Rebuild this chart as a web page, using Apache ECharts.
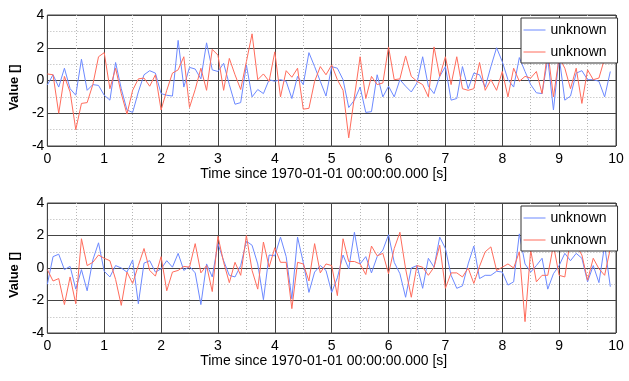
<!DOCTYPE html>
<html>
<head>
<meta charset="utf-8">
<script src="https://cdn.jsdelivr.net/npm/echarts@6/dist/echarts.min.js"></script>
<style>
html,body{margin:0;padding:0;background:#fff;}
#chart{width:629px;height:381px;}
</style>
</head>
<body>
<div id="chart"></div>
<script>
// ---- data ----
const time = [0,0.1,0.2,0.3,0.4,0.5,0.6,0.7,0.8,0.9,1,1.1,1.2,1.3,1.4,1.5,1.6,1.7,1.8,1.9,2,2.1,2.2,2.3,2.4,2.5,2.6,2.7,2.8,2.9,3,3.1,3.2,3.3,3.4,3.5,3.6,3.7,3.8,3.9,4,4.1,4.2,4.3,4.4,4.5,4.6,4.7,4.8,4.9,5,5.1,5.2,5.3,5.4,5.5,5.6,5.7,5.8,5.9,6,6.1,6.2,6.3,6.4,6.5,6.6,6.7,6.8,6.9,7,7.1,7.2,7.3,7.4,7.5,7.6,7.7,7.8,7.9,8,8.1,8.2,8.3,8.4,8.5,8.6,8.7,8.8,8.9,9,9.1,9.2,9.3,9.4,9.5,9.6,9.7,9.8,9.9];

const topBlue = [-0.27,0.35,-0.4,0.75,-0.5,-0.9,1.3,-0.6,-0.25,-0.3,
  -0.9,-1.2,1.1,-0.5,-1.8,-1.95,-0.7,0.35,0.6,0.45,
  -0.8,-0.9,-0.95,2.45,-0.4,0.8,0.7,0.1,2.3,0.65,
  0.55,1.05,-0.25,-1.45,-1.35,0.95,-1.0,-0.55,-0.8,0.05,
  -0.05,0.05,-0.05,-1.1,0.25,-0.25,1.7,0.85,-0.05,-0.95,
  0.85,0.75,0.05,-1.65,-1.2,-0.4,-1.95,-1.9,0.35,-1.0,
  -0.35,-1.0,0.05,-0.35,-0.7,-0.15,1.45,-0.35,-0.8,0.25,
  0.85,-1.2,-1.1,0.85,-0.5,0.45,0.35,-0.4,0.85,2.0,
  1.15,0.05,-0.4,1.4,0.55,-0.25,-0.75,-0.8,1.35,-1.8,
  1.45,-1.2,-0.95,0.45,0.6,0.05,0.05,-0.05,-1.0,0.55];

const topRed = [0.4,0.35,-2.0,0.25,-0.7,-3.0,-1.4,-1.35,-0.25,1.45,
  1.7,-0.5,0.75,-0.8,-2.05,-0.6,0.1,0.15,-0.35,0.35,
  -1.8,-0.6,0.45,0.65,1.45,-1.65,-0.55,0.75,-0.6,1.9,
  1.55,-0.6,1.35,0.35,-0.55,1.15,2.85,0.05,0.4,-0.05,
  1.75,-1.0,0.6,0.2,0.75,-1.75,-1.7,-0.05,0.85,0.35,
  0.95,0.05,-0.6,-3.5,-1.0,1.45,-1.1,0.25,-0.25,-0.15,
  2.05,0.05,0.1,1.5,0.25,-0.05,-0.25,-1.0,2.05,0.25,
  1.45,-0.25,1.45,-0.5,-0.6,-0.5,1.1,-0.6,0.05,-0.6,
  0.55,-1.0,0.75,-0.05,0.25,0.15,0.55,-0.8,1.8,-1.0,
  1.4,0.75,-0.5,0.75,-1.4,0.65,0.05,0.15,1.35,1.25];

const bottomBlue = [-1.0,0.7,0.85,-0.1,0.1,-1.3,-0.1,-1.4,0.5,1.55,
  -0.2,-0.55,0.15,0.0,-0.25,0.5,-2.2,0.3,0.45,-0.25,
  -0.05,0.45,0.05,0.9,-0.15,0.1,-0.3,-2.25,0.25,-0.55,
  1.5,0.45,-0.45,-0.55,0.15,1.65,1.4,0.25,-1.95,0.8,
  0.75,1.9,0.7,-1.9,1.9,0.35,-1.5,-0.25,0.15,-0.15,
  -1.5,-0.6,0.8,-0.05,2.2,0.25,0.7,-0.3,0.7,1.1,
  2.05,0.35,-0.35,-1.8,0.0,0.15,-1.25,0.6,0.05,1.9,
  1.2,-0.45,-1.25,-1.1,0.25,1.35,-0.65,-0.45,-0.45,-0.2,
  -0.25,-1.05,-0.85,2.1,0.25,-0.25,0.15,0.6,-1.3,-0.35,
  0.15,0.9,0.45,0.9,0.6,-0.85,0.15,-0.9,1.4,-1.15];

const bottomRed = [-0.1,-0.8,-0.65,-2.25,-0.55,-2.2,1.8,0.15,0.35,0.8,
  0.6,0.45,-0.7,-2.3,-0.25,-0.95,0.15,1.2,-0.15,-0.5,
  0.7,-1.4,-0.25,-0.15,0.1,0.05,1.5,-0.3,0.15,-1.45,
  1.95,0.35,-0.9,0.35,-0.45,2.0,-0.15,-1.3,1.6,0.05,
  1.25,0.35,0.35,-2.5,0.35,0.25,-0.8,1.5,-0.3,0.25,
  0.15,-1.7,1.8,0.4,0.4,0.25,-0.4,1.35,0.75,0.9,
  -0.35,1.2,2.2,-0.05,-1.8,0.15,0.05,-0.45,0.05,1.4,
  -1.25,-0.3,-0.3,-0.55,0.0,-0.95,0.1,1.0,1.3,-0.15,
  0.05,0.25,0.0,1.0,-3.3,1.1,-0.85,-0.45,-0.45,1.4,
  -0.45,-0.55,1.8,1.4,0.8,-0.75,0.6,-0.05,-0.45,1.2];

const seriesNames = ['top-1','top-2','bottom-1','bottom-2'];
const legendLabel = 'unknown';
const xTicks = [0,1,2,3,4,5,6,7,8,9,10];
const yTicks = [-4,-2,0,2,4];
const xTitle = 'Time since 1970-01-01 00:00:00.000 [s]';
const yTitle = 'Value []';

// ---- styling ----
const FONT = 'Liberation Sans, Arial, Helvetica, sans-serif';
const BLUE = '#6c89ff';
const RED = '#ff6c5c';

function pairs(vals){ return vals.map((v,i)=>[time[i], v]); }

function xAxisFor(gi){
  return {
    type:'value', gridIndex:gi, min:xTicks[0], max:xTicks[xTicks.length-1], interval:1,
    axisLine:{show:false, onZero:false}, axisTick:{show:false},
    axisLabel:{color:'#000', fontSize:14, fontFamily:FONT, margin:6},
    splitLine:{show:true, lineStyle:{color:'#444', width:1}},
    minorTick:{show:false, splitNumber:2},
    minorSplitLine:{show:true, lineStyle:{color:'#b5b5b5', width:1, type:[1,2]}},
    name:xTitle, nameLocation:'middle', nameGap:21,
    nameTextStyle:{color:'#000', fontSize:14, fontFamily:FONT, padding:[0,16,0,0]}
  };
}
function yAxisFor(gi){
  return {
    type:'value', gridIndex:gi, min:yTicks[0], max:yTicks[yTicks.length-1], interval:2,
    axisLine:{show:false, onZero:false}, axisTick:{show:false},
    axisLabel:{color:'#000', fontSize:14, fontFamily:FONT, margin:3},
    splitLine:{show:true, lineStyle:{color:'#444', width:1}},
    minorTick:{show:false, splitNumber:2},
    minorSplitLine:{show:true, lineStyle:{color:'#b5b5b5', width:1, type:[1,2]}},
    name:yTitle, nameLocation:'middle', nameGap:21, nameRotate:90,
    nameTextStyle:{color:'#000', fontSize:13, fontWeight:'bold', fontFamily:FONT, padding:[0,14,0,0]}
  };
}
function lineSeries(name, vals, color, gi){
  return {
    name:name, type:'line', xAxisIndex:gi, yAxisIndex:gi, data:pairs(vals),
    symbol:'none', showSymbol:false, silent:true, animation:false,
    lineStyle:{color:color, width:1}, itemStyle:{color:color}
  };
}
function legendFor(names, top){
  return {
    data:names, orient:'vertical', left:521, top:top,
    itemWidth:22, itemHeight:12, itemGap:8,
    padding:[5,11,4,2],
    backgroundColor:'#fff', borderColor:'#333', borderWidth:1,
    selectedMode:false,
    itemStyle:{opacity:0, borderWidth:0},
    lineStyle:{width:1},
    formatter:()=>legendLabel,
    textStyle:{color:'#000', fontSize:14, fontFamily:FONT}
  };
}

const chart = echarts.init(document.getElementById('chart'), null, {renderer:'canvas'});
chart.setOption({
  backgroundColor:'#fff',
  animation:false,
  grid:[
    {left:43, top:15, width:573, height:131, show:true, borderColor:'#444', borderWidth:1, backgroundColor:'#fff'},
    {left:43, top:203, width:573, height:130, show:true, borderColor:'#444', borderWidth:1, backgroundColor:'#fff'}
  ],
  xAxis:[xAxisFor(0), xAxisFor(1)],
  yAxis:[yAxisFor(0), yAxisFor(1)],
  legend:[legendFor([seriesNames[0],seriesNames[1]], 18), legendFor([seriesNames[2],seriesNames[3]], 206)],
  series:[
    lineSeries(seriesNames[0], topBlue, BLUE, 0),
    lineSeries(seriesNames[1], topRed, RED, 0),
    lineSeries(seriesNames[2], bottomBlue, BLUE, 1),
    lineSeries(seriesNames[3], bottomRed, RED, 1)
  ]
});
</script>
</body>
</html>
